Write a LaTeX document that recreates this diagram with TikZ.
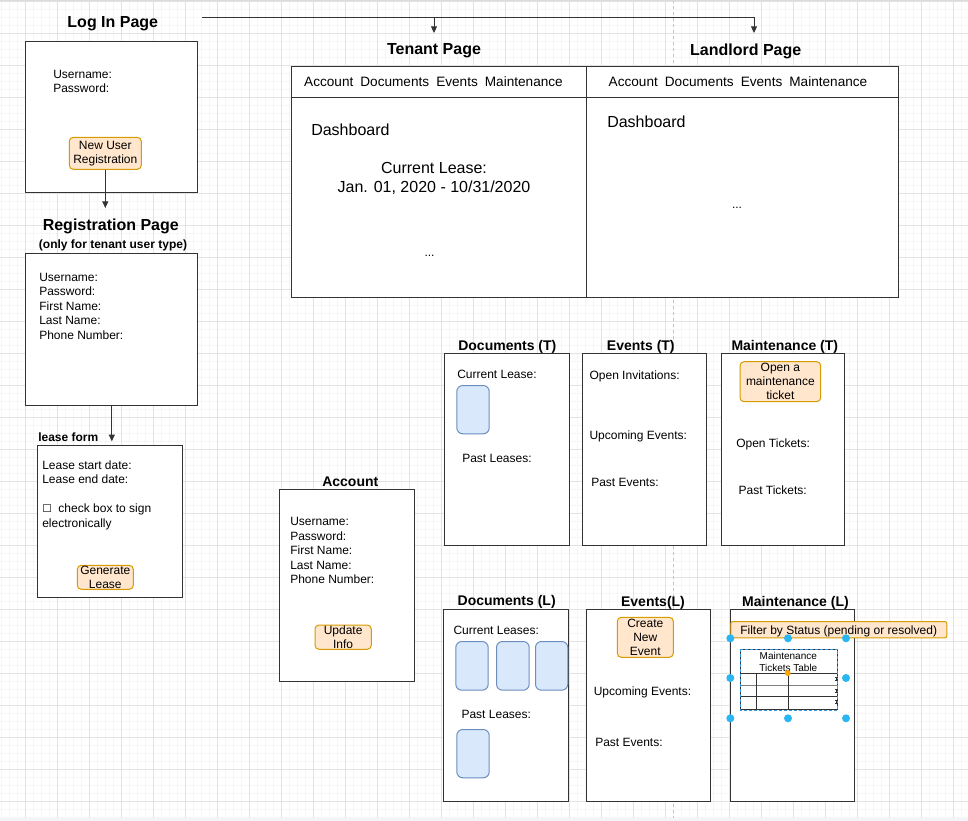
\documentclass[tikz,border=0pt]{standalone}
\usepackage{fontspec}
\setmainfont{Liberation Sans}
\newfontfamily\dejavu{DejaVu Sans}
\usetikzlibrary{arrows.meta}
\definecolor{gridmaj}{HTML}{E3E3E3}
\definecolor{gridmin}{HTML}{F6F6F6}
\definecolor{ink}{HTML}{333333}
\definecolor{btnfill}{HTML}{FFE6CC}
\definecolor{btndraw}{HTML}{D79B00}
\definecolor{docfill}{HTML}{DAE8FC}
\definecolor{docdraw}{HTML}{6C8EBF}
\definecolor{handle}{HTML}{29B6F2}
\definecolor{handleor}{HTML}{FFA500}
\definecolor{strip}{HTML}{F3F5F8}
\definecolor{topline}{HTML}{DCDCDC}
\definecolor{pagebreak}{HTML}{C4C4C4}
\definecolor{tblblue}{HTML}{3399DD}
% name, style, x1, y1, x2, y2
\newcommand\pgbox[6]{\node[#2,anchor=north west,minimum width={0.75pt*(#5-#3)},minimum height={0.75pt*(#6-#4)}] (#1) at (#3,#4) {};}
% name, x1, y1, x2, y2, text
\newcommand\pgbtn[6]{\node[btn,anchor=center,minimum width={0.75pt*(#4-#2)},minimum height={0.75pt*(#5-#3)}] (#1) at ({(#2+#4)/2},{(#3+#5)/2}) {#6};}
\tikzset{
  x=0.75pt, y=-0.75pt,
  frame/.style={draw=ink, fill=white, line width=0.75pt, inner sep=0},
  btn/.style={draw=btndraw, fill=btnfill, rounded corners=3pt, line width=0.75pt, inner sep=0,
    font=\fontsize{9}{10.6}\selectfont, align=center},
  leasecard/.style={draw=docdraw, fill=docfill, rounded corners=4.5pt, line width=0.75pt, inner sep=0},
  lbl/.style={font=\fontsize{9}{10.9}\selectfont, inner sep=0, anchor=west, align=left, yshift=-0.75pt},
  clbl/.style={font=\fontsize{9}{10.9}\selectfont, inner sep=0, align=center},
  biglbl/.style={font=\fontsize{12}{14.25}\selectfont, inner sep=0, align=center},
  tabs/.style={font=\fontsize{10.2}{12}\selectfont, inner sep=0},
  ttl/.style={font=\bfseries\fontsize{12}{14}\selectfont, inner sep=0, yshift=-1.5pt},
  sttl/.style={font=\bfseries\fontsize{10.5}{12}\selectfont, inner sep=0, yshift=-1.1pt},
  mttl/.style={font=\bfseries\fontsize{9}{11}\selectfont, inner sep=0},
  conn/.style={draw=ink, line width=0.75pt, -{Triangle[length=5pt,width=4.5pt]}},
  hdl/.style={fill=handle, draw=none, circle, minimum size=6pt, inner sep=0},
  hdlor/.style={fill=handleor, draw=none, circle, minimum size=4.5pt, inner sep=0},
  tline/.style={draw=ink, line width=0.75pt},
}
\begin{document}
\begin{tikzpicture}
\useasboundingbox (0,0) rectangle (968,821);
% background grid
\foreach \i in {0,...,120} \draw[gridmin, line width=0.75pt] ({1.3+8*\i},0) -- ({1.3+8*\i},818);
\foreach \j in {0,...,102} \draw[gridmin, line width=0.75pt] (0,{1.3+8*\j}) -- (968,{1.3+8*\j});
\foreach \i in {0,...,29} \draw[gridmaj, line width=0.75pt] ({25.3+32*\i},0) -- ({25.3+32*\i},818);
\foreach \j in {0,...,25} \draw[gridmaj, line width=0.75pt] (0,{1.3+32*\j}) -- (968,{1.3+32*\j});
\draw[pagebreak, line width=0.75pt, dash pattern=on 2.25pt off 2.25pt] (673.5,0) -- (673.5,818);
\fill[strip] (0,817.7) rectangle (968,821);
\fill[topline] (0,0) rectangle (968,1.3);

% ---- Log in page
\node[ttl] (logintitle) at (112.8,21.5) {Log In Page};
\pgbox{login}{frame}{25.3}{40.7}{197.3}{192.3}
\node[lbl] (logintext) at (53,80.5) {Username:\\Password:};
\pgbtn{newuser}{69.3}{137.3}{141.3}{169.3}{New User\\Registration}
\coordinate (regin) at (105.3,208);
\draw[conn] (newuser.south) -- (regin);

% ---- Registration page
\node[ttl] (regtitle) at (110.8,224.5) {Registration Page};
\node[mttl] (regsub) at (113,245) {(only for tenant user type)};
\pgbox{reg}{frame}{25.3}{253}{197.3}{405.3}
\node[lbl] (regtext) at (39,305) {Username:\\Password:\\First Name:\\Last Name:\\Phone Number:};

% ---- Lease form
\node[mttl, anchor=west] (leasetitle) at (38,437.5) {lease form};
\pgbox{lease}{frame}{37.3}{445.3}{181.7}{597.3}
\draw[conn, shorten >=3pt] (reg.south) -- (reg.south |- lease.north);
\node[lbl] (leasetext) at (42,494) {Lease start date:\\Lease end date:\\[10.9pt]{\dejavu\fontsize{8}{10}\selectfont ☐}\hspace{5pt}check box to sign\\electronically};
\pgbtn{genlease}{77.3}{565.3}{133.3}{589.3}{Generate\\Lease}

% ---- Top connector
\coordinate (src) at (202,17);
\coordinate (tin) at (434,33);
\coordinate (lin) at (754,33);
\draw[conn] (src) -| (tin);
\draw[conn] (src) -| (lin);

% ---- Tenant / Landlord page
\node[ttl] (tenanttitle) at (434,49) {Tenant Page};
\node[ttl] (landlordtitle) at (745.7,49.5) {Landlord Page};
\pgbox{tenant}{frame}{290.7}{65.7}{586.3}{297}
\pgbox{landlord}{frame}{586.3}{65.7}{898.3}{297}
\draw[tline] (tenant.north west |- 0,97.7) -- (landlord.north east |- 0,97.7);
\node[tabs] (ttabs) at (433.5,82) {Account\hspace{5.3pt}Documents\hspace{5.3pt}Events\hspace{5.3pt}Maintenance};
\node[tabs] (ltabs) at (738,82) {Account\hspace{5.3pt}Documents\hspace{5.3pt}Events\hspace{5.3pt}Maintenance};
\node[biglbl, anchor=west] (tdash) at (311,129.5) {Dashboard};
\node[biglbl, anchor=west] (ldash) at (607,121.5) {Dashboard};
\node[biglbl] (tlease) at (434,178.5) {Current Lease:\\Jan. 01, 2020 - 10/31/2020};
\node[clbl] (tdots) at (429.5,255.5) {...};
\node[clbl] (ldots) at (737,207.5) {...};

% ---- Tenant sub pages
\node[sttl] (doctt) at (507.3,345) {Documents (T)};
\node[sttl] (evtt) at (640.8,345) {Events (T)};
\node[sttl] (mttt) at (784.8,345) {Maintenance (T)};
\pgbox{doct}{frame}{444}{353.3}{568.7}{545}
\pgbox{evt}{frame}{582.3}{353.3}{706.3}{545}
\pgbox{mtt}{frame}{720.7}{353.3}{844.3}{545}
\node[lbl] (doct1) at (457,373.3) {Current Lease:};
\pgbox{doctcard}{leasecard}{456.3}{385}{488.7}{433.3}
\node[lbl] (doct2) at (462,457.5) {Past Leases:};
\node[lbl] (evt1) at (589.3,375) {Open Invitations:};
\node[lbl] (evt2) at (589.3,435) {Upcoming Events:};
\node[lbl] (evt3) at (591,481.7) {Past Events:};
\pgbtn{openticket}{740}{361.7}{820.7}{401.7}{Open a\\maintenance\\ticket}
\node[lbl] (mtt1) at (736,443) {Open Tickets:};
\node[lbl] (mtt2) at (738.3,489.3) {Past Tickets:};

% ---- Account
\node[sttl] (acctitle) at (350.3,480) {Account};
\pgbox{account}{frame}{279.3}{489.3}{414.3}{681}
\node[lbl] (acctext) at (290,549.7) {Username:\\Password:\\First Name:\\Last Name:\\Phone Number:};
\pgbtn{update}{315}{625}{371.3}{649.3}{Update\\Info}

% ---- Landlord sub pages
\node[sttl] (docltitle) at (506.7,600.5) {Documents (L)};
\node[sttl] (evltitle) at (653,601) {Events(L)};
\node[sttl] (mtltitle) at (795.5,601) {Maintenance (L)};
\pgbox{docl}{frame}{443.3}{609.3}{567.7}{801}
\pgbox{evl}{frame}{586.3}{609.3}{710.3}{801.3}
\pgbox{mtl}{frame}{730.3}{609.3}{854.3}{801}
\node[lbl] (docl1) at (453.3,629.7) {Current Leases:};
\pgbox{card1}{leasecard}{455.3}{641}{487.7}{689.7}
\pgbox{card2}{leasecard}{496}{641}{528.7}{689.7}
\pgbox{card3}{leasecard}{535}{641}{567.3}{689.7}
\node[lbl] (docl2) at (461.3,713.7) {Past Leases:};
\pgbox{card4}{leasecard}{456.3}{729}{488.7}{777.3}
\pgbtn{newevent}{617.3}{617.3}{673.3}{657.3}{Create\\New\\Event}
\node[lbl] (evl1) at (593.5,691.2) {Upcoming Events:};
\node[lbl] (evl2) at (595,741.7) {Past Events:};

% filter bar
\node[draw=btndraw, fill=btnfill, rounded corners=1.5pt, line width=0.75pt, anchor=north west,
  minimum width={0.75pt*216}, minimum height={0.75pt*16.3}, inner sep=0] (filter) at (730.3,621) {};
\node[lbl] (filtertext) at (740,630.2) {Filter by Status (pending or resolved)};

% tickets table
\pgbox{table}{frame}{740}{649}{836.7}{709.3}
\node[clbl, font=\fontsize{7.5}{8.8}\selectfont] (tabletitle) at (788.3,662) {Maintenance\\Tickets Table};
\draw[tline] (table.west |- 0,673.3) -- (table.east |- 0,673.3);
\draw[draw=gray, line width=1.2pt] (table.west |- 0,685.3) -- (table.east |- 0,685.3);
\draw[tline] (table.west |- 0,696) -- (table.east |- 0,696);
\draw[tline] (756.3,673.3) -- (756.3,709.3);
\draw[tline] (788.3,673.3) -- (788.3,709.3);
\draw[tblblue, line width=0.75pt, dash pattern=on 2.25pt off 1.5pt] (table.north west) rectangle (table.south east);
\foreach \yy in {679,690.5,702} {
  \draw[ink, line width=0.5pt] (835,{\yy-1.5}) -- (838.4,{\yy-1.5});
  \draw[ink, line width=0.5pt] (835,{\yy+1.5}) -- (838.4,{\yy+1.5});
  \draw[ink, line width=0.5pt] (836.7,{\yy-1.5}) -- (836.7,{\yy+1.5});
}
% selection handles
\node[hdl] (h1) at (730.3,638.3) {};
\node[hdl] (h2) at (788,638.3) {};
\node[hdl] (h3) at (846,638.3) {};
\node[hdl] (h4) at (730.3,678) {};
\node[hdl] (h5) at (846,678) {};
\node[hdl] (h6) at (730.3,718.3) {};
\node[hdl] (h7) at (788,718.3) {};
\node[hdl] (h8) at (846,718.3) {};
\node[hdlor] (h9) at (787.7,673) {};
\end{tikzpicture}
\end{document}
